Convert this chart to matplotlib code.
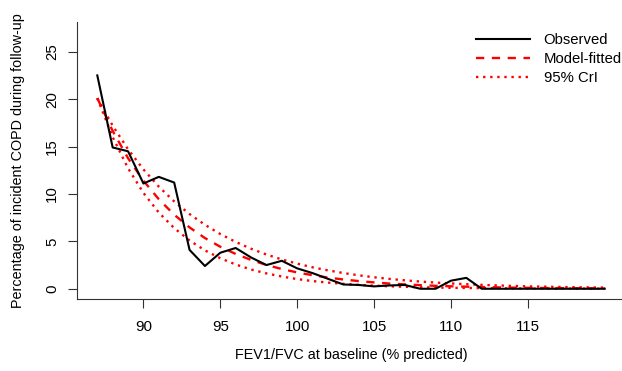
import matplotlib
matplotlib.use("Agg")
import matplotlib.pyplot as plt

plt.rcParams['font.family'] = ['Liberation Sans', 'DejaVu Sans']

fev_ratio = list(range(87, 121))
observed = [22.5, 14.9, 14.5, 11.1, 11.8, 11.2, 4.1, 2.4, 3.8, 4.3,
            3.3, 2.5, 2.95, 2.15, 1.65, 1.05, 0.45, 0.4, 0.25, 0.35,
            0.4, 0.0, 0.0, 0.85, 1.15, 0.0, 0.0, 0.0, 0.0, 0.0,
            0.0, 0.0, 0.0, 0.0]
model_fitted = [20.1, 16.64, 13.77, 11.40, 9.44, 7.81, 6.47, 5.35, 4.43, 3.67,
                3.04, 2.51, 2.08, 1.72, 1.43, 1.18, 0.98, 0.81, 0.67, 0.55,
                0.46, 0.38, 0.31, 0.26, 0.22, 0.18, 0.15, 0.12, 0.10, 0.08,
                0.07, 0.06, 0.05, 0.04]
cri_upper = [20.1, 17.20, 14.71, 12.59, 10.77, 9.21, 7.88, 6.75, 5.77, 4.94,
             4.22, 3.61, 3.09, 2.65, 2.26, 1.94, 1.66, 1.42, 1.21, 1.04,
             0.89, 0.76, 0.65, 0.56, 0.48, 0.41, 0.35, 0.30, 0.25, 0.22,
             0.19, 0.16, 0.14, 0.12]
cri_lower = [20.1, 15.99, 12.71, 10.11, 8.04, 6.40, 5.09, 4.05, 3.22, 2.56,
             2.03, 1.62, 1.29, 1.02, 0.81, 0.65, 0.52, 0.41, 0.33, 0.26,
             0.21, 0.16, 0.13, 0.10, 0.08, 0.07, 0.05, 0.04, 0.03, 0.03,
             0.02, 0.02, 0.01, 0.01]
x_ticks = [90, 95, 100, 105, 110, 115]
y_ticks = [0, 5, 10, 15, 20, 25]

W, H = 622, 371
fig = plt.figure(figsize=(W / 100, H / 100), dpi=100)
left, right, top, bottom = 77, 625, 22.5, 299
ax = fig.add_axes([left / W, (H - bottom) / H, (right - left) / W, (bottom - top) / H])

red = '#FF0000'
ax.plot(fev_ratio, observed, color='black', lw=1.5, label='Observed', zorder=3)
ax.plot(fev_ratio, model_fitted, color=red, lw=1.7, dashes=(3.5, 3.2), label='Model-fitted')
ax.plot(fev_ratio, cri_upper, color=red, lw=1.7, dashes=(1, 2.0), label='95% CrI')
ax.plot(fev_ratio, cri_lower, color=red, lw=1.7, dashes=(1, 2.0))

ax.set_xlim(85.68, 121.32)
ax.set_ylim(-1.08, 28.08)
ax.set_xticks(x_ticks)
ax.set_yticks(y_ticks)
ax.tick_params(direction='out', length=6.5, width=0.8, color='#333333', labelsize=10.8)
ax.tick_params(axis='x', pad=8.5)
ax.tick_params(axis='y', pad=6.5)
plt.setp(ax.get_yticklabels(), rotation=90, va='center')
for s in ['top', 'right']:
    ax.spines[s].set_visible(False)
for s in ['left', 'bottom']:
    ax.spines[s].set_linewidth(0.8)
    ax.spines[s].set_color('#333333')

ax.set_xlabel('FEV1/FVC at baseline (% predicted)', fontsize=10.4, labelpad=10.5)
ax.set_ylabel('Percentage of incident COPD during follow-up', fontsize=10.4, labelpad=14.5)

leg = ax.legend(loc='upper left', bbox_to_anchor=(476 / W, 1 - 33 / H),
                bbox_transform=fig.transFigure, frameon=False, fontsize=10.7,
                handlelength=3.6, handletextpad=0.95, labelspacing=0.33,
                borderaxespad=0, borderpad=0)

fig.savefig('out.png', dpi=100)
